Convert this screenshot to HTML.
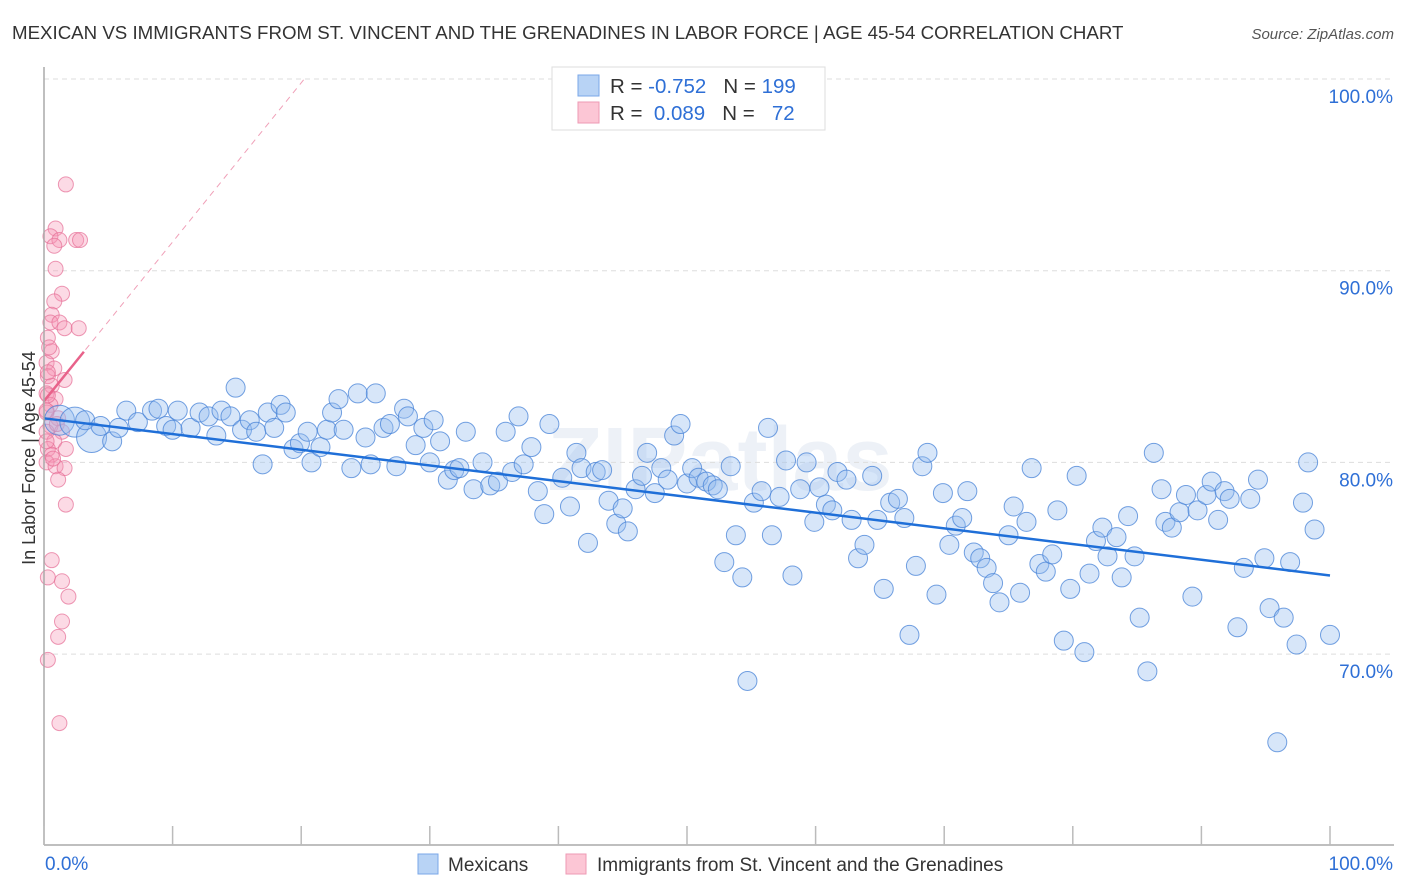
<!DOCTYPE html>
<html><head><meta charset="utf-8"><style>
body{margin:0;background:#fff;width:1406px;height:892px;overflow:hidden;font-family:"Liberation Sans",sans-serif}
svg{position:absolute;left:0;top:0}
</style></head><body>
<svg id="chart" width="1406" height="892">
<text x="12" y="39" font-size="18.7" fill="#333">MEXICAN VS IMMIGRANTS FROM ST. VINCENT AND THE GRENADINES IN LABOR FORCE | AGE 45-54 CORRELATION CHART</text>
<text x="1394" y="39" font-size="15" fill="#555" font-style="italic" text-anchor="end">Source: ZipAtlas.com</text>
<text x="35" y="458" font-size="18" fill="#333" text-anchor="middle" transform="rotate(-90 35 458)">In Labor Force | Age 45-54</text>
<text x="720" y="490" font-size="90" fill="#edf1f7" text-anchor="middle" font-weight="bold">ZIPatlas</text>
<g id="grid"></g><g id="pts"></g><g id="lines"></g><g id="axes"></g>
<g>
<rect x="552" y="67" width="273" height="63" fill="#fff" stroke="#ddd"/>
<rect x="578" y="75" width="21" height="21" fill="#b8d3f5" stroke="#7aa7e8"/>
<rect x="578" y="102" width="21" height="21" fill="#fcc6d5" stroke="#ee9ab4"/>
<text x="610" y="93" font-size="20.5" fill="#333">R = <tspan fill="#2e6fd6">-0.752</tspan>&#160;&#160;&#160;N = <tspan fill="#2e6fd6">199</tspan></text>
<text x="610" y="120" font-size="20.5" fill="#333">R = &#160;<tspan fill="#2e6fd6">0.089</tspan>&#160;&#160;&#160;N = &#160;&#160;<tspan fill="#2e6fd6">72</tspan></text>
</g>
<g>
<rect x="418" y="854" width="20" height="20" fill="#b8d3f5" stroke="#7aa7e8"/>
<text x="448" y="871" font-size="19" fill="#333">Mexicans</text>
<rect x="566" y="854" width="20" height="20" fill="#fcc6d5" stroke="#ee9ab4"/>
<text x="597" y="871" font-size="19" fill="#333">Immigrants from St. Vincent and the Grenadines</text>
</g>
</svg>
<script>
const blueX=[1.2,2.4,3.7,3.2,5.3,4.4,6.4,5.8,7.3,8.4,8.9,9.5,10.0,10.4,11.4,12.1,12.8,13.4,13.8,14.5,14.9,15.4,16.0,16.5,17.0,17.4,17.9,18.4,18.8,19.4,19.9,20.5,20.8,21.5,22.0,22.4,22.9,23.3,23.9,24.4,25.0,25.4,25.8,26.4,26.9,27.4,28.0,28.3,28.9,29.5,30.0,30.3,30.8,31.4,31.9,32.3,32.8,33.4,34.1,34.7,35.3,35.9,36.4,36.9,37.3,37.9,38.4,38.9,39.3,40.3,40.9,41.4,41.8,42.3,42.9,43.4,43.9,44.5,45.0,45.4,46.0,46.5,46.9,47.5,48.0,48.5,49.0,49.5,50.0,50.4,50.9,51.5,52.0,52.4,52.9,53.4,53.8,54.3,54.7,55.2,55.8,56.3,56.6,57.2,57.7,58.2,58.8,59.3,59.9,60.3,60.8,61.3,61.7,62.4,62.8,63.3,63.8,64.4,64.8,65.3,65.8,66.4,66.9,67.3,67.8,68.3,68.7,69.4,69.9,70.4,70.9,71.4,71.8,72.3,72.8,73.3,73.8,74.3,75.0,75.4,75.9,76.4,76.8,77.4,77.9,78.4,78.8,79.3,79.8,80.3,80.9,81.3,81.8,82.3,82.7,83.4,83.8,84.3,84.8,85.2,85.8,86.3,86.9,87.2,87.7,88.3,88.8,89.3,89.7,90.4,90.8,91.3,91.8,92.2,92.8,93.3,93.8,94.4,94.9,95.3,95.9,96.4,96.9,97.4,97.9,98.3,98.8,100];
const blueY=[82.2,82.1,81.3,82.2,81.1,81.9,82.7,81.8,82.1,82.7,82.8,81.9,81.7,82.7,81.8,82.6,82.4,81.4,82.7,82.4,83.9,81.7,82.2,81.6,79.9,82.6,81.8,83.0,82.6,80.7,81.0,81.6,80.0,80.8,81.7,82.6,83.3,81.7,79.7,83.6,81.3,79.9,83.6,81.8,82.0,79.8,82.8,82.4,80.9,81.8,80.0,82.2,81.1,79.1,79.6,79.7,81.6,78.6,80.0,78.8,79.0,81.6,79.5,82.4,79.9,80.8,78.5,77.3,82.0,79.2,77.7,80.5,79.7,75.8,79.5,79.6,78.0,76.8,77.6,76.4,78.6,79.3,80.5,78.4,79.7,79.1,81.4,82.0,78.9,79.7,79.2,79.0,78.8,78.6,74.8,79.8,76.2,74.0,68.6,77.9,78.5,81.8,76.2,78.2,80.1,74.1,78.6,80.0,76.9,78.7,77.8,77.5,79.5,79.1,77.0,75.0,75.7,79.3,77.0,73.4,77.9,78.1,77.1,71.0,74.6,79.8,80.5,73.1,78.4,75.7,76.7,77.1,78.5,75.3,75.0,74.5,73.7,72.7,76.2,77.7,73.2,76.9,79.7,74.7,74.3,75.2,77.5,70.7,73.4,79.3,70.1,74.2,75.9,76.6,75.1,76.1,74.0,77.2,75.1,71.9,69.1,80.5,78.6,76.9,76.6,77.4,78.3,73.0,77.5,78.3,79.0,77.0,78.5,78.1,71.4,74.5,78.1,79.1,75.0,72.4,65.4,71.9,74.8,70.5,77.9,80.0,76.5,71.0];
const pinkX=[1.7,0.9,0.5,1.2,2.5,2.8,0.8,0.9,1.4,0.8,0.6,0.5,1.2,1.6,2.7,0.3,0.6,0.2,0.8,0.3,1.6,0.6,0.2,0.9,0.5,0.2,1.1,0.5,0.2,1.4,0.8,0.3,1.7,0.6,0.2,0.9,1.6,1.1,1.7,0.6,0.3,1.4,1.9,1.4,1.1,0.3,1.2,0.2,0.3,0.2,0.4,1.0,0.7,0.3];
const pinkY=[94.5,92.2,91.8,91.6,91.6,91.6,91.3,90.1,88.8,88.4,87.7,87.3,87.3,87.0,87.0,86.5,85.8,85.2,84.9,84.5,84.3,84.0,83.6,83.3,83.0,82.6,82.3,81.9,81.6,81.6,81.1,80.7,80.7,80.4,80.0,79.8,79.7,79.1,77.8,74.9,74.0,73.8,73.0,71.7,70.9,69.7,66.4,82.7,83.5,81.1,86.0,82.0,80.2,84.7];
const bigIdx=[0,1,2];
const blueTrend=[82.3,74.1];
const pinkTrend=[83.2,0.83];
const yTicks=[100,90,80,70];
const xTickVals=[0,10,20,30,40,50,60,70,80,90,100];
const NS='http://www.w3.org/2000/svg';
const X0=44,X1=1330,Y100=79,PPU=19.17;
const sx=v=>X0+(X1-X0)*v/100;
const sy=v=>Y100+(100-v)*PPU;
function mk(tag,attrs,parent){const e=document.createElementNS(NS,tag);for(const k in attrs)e.setAttribute(k,attrs[k]);parent.appendChild(e);return e;}
const grid=document.getElementById('grid'),pts=document.getElementById('pts'),lines=document.getElementById('lines'),axes=document.getElementById('axes');
yTicks.forEach(t=>{
 const l=mk('line',{x1:X0,x2:1394,y1:sy(t),y2:sy(t),stroke:'#ddd','stroke-dasharray':'5,4'},grid);
 
 
 const tx=mk('text',{x:1393,y:sy(t)+24,'font-size':19,fill:'#2e6fd6','text-anchor':'end'},grid);
 tx.textContent=t.toFixed(1)+'%';
 
 
});
pinkX.forEach((x,i)=>{
 const c=mk('circle',{cx:sx(x),cy:sy(pinkY[i]),r:7.5,fill:'rgba(245,150,180,0.35)',stroke:'rgba(230,110,150,0.7)','stroke-width':1},pts);
 
 
});
blueX.forEach((x,i)=>{
 const big=bigIdx.includes(i);
 const c=mk('circle',{cx:sx(x),cy:sy(blueY[i]),r:big?15:9.5,fill:'rgba(150,190,240,0.38)',stroke:'rgba(70,130,215,0.75)','stroke-width':1},pts);
 
 
});
const bl=mk('line',{x1:sx(0),y1:sy(blueTrend[0]),x2:sx(100),y2:sy(blueTrend[1]),stroke:'#1f6fd8','stroke-width':2.5},lines);


const pe=(100-pinkTrend[0])/pinkTrend[1];
const pd=mk('line',{x1:sx(0),y1:sy(pinkTrend[0]),x2:sx(pe),y2:sy(100),stroke:'#f0a0b8','stroke-width':1,'stroke-dasharray':'6,5'},lines);


const ps=mk('line',{x1:sx(0),y1:sy(pinkTrend[0]),x2:sx(3.1),y2:sy(pinkTrend[0]+pinkTrend[1]*3.1),stroke:'#e8628a','stroke-width':2.5},lines);


const ya=mk('line',{x1:X0,x2:X0,y1:67,y2:845,stroke:'#aaa','stroke-width':1.5},axes);


const xa=mk('line',{x1:X0,x2:1394,y1:845,y2:845,stroke:'#aaa','stroke-width':1.5},axes);


xTickVals.forEach(v=>{
 const t=mk('line',{x1:sx(v),x2:sx(v),y1:826,y2:845,stroke:'#bbb','stroke-width':1.5},axes);
 
 
});
const xl0=mk('text',{x:45,y:870,'font-size':19,fill:'#2e6fd6'},axes);
xl0.textContent='0.0%';


const xl1=mk('text',{x:1393,y:870,'font-size':19,fill:'#2e6fd6','text-anchor':'end'},axes);
xl1.textContent='100.0%';


</script>
</body></html>
